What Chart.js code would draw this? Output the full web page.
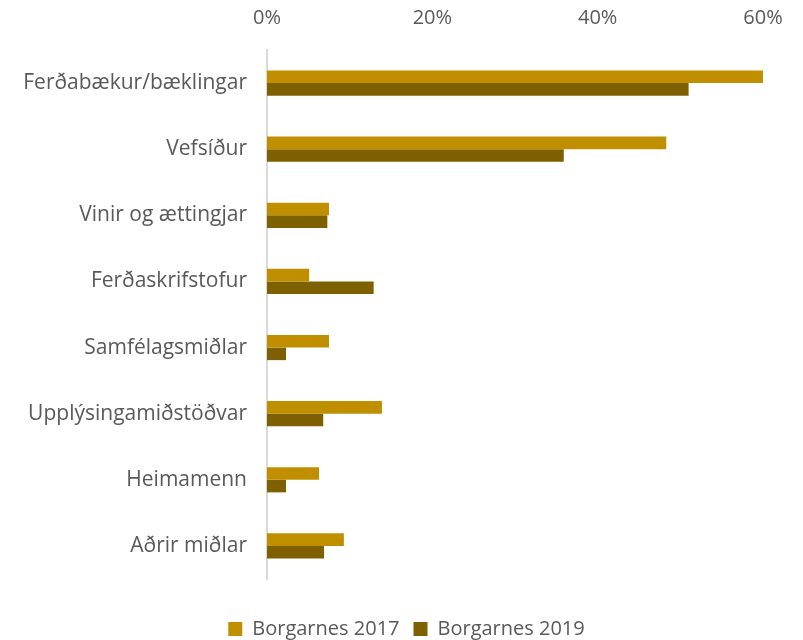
<!DOCTYPE html>
<html>
<head>
<meta charset="utf-8">
<script src="https://cdn.jsdelivr.net/npm/chart.js@4"></script>
<style>
  html, body { margin: 0; padding: 0; background: #fff; }
  #wrap { width: 803px; height: 640px; }
</style>
</head>
<body>
<div id="wrap"><canvas id="barChart"></canvas></div>
<script>
// gögn lesin af myndinni (hlutfall í %)
const categories = ['Ferðabækur/bæklingar', 'Vefsíður', 'Vinir og ættingjar', 'Ferðaskrifstofur',
  'Samfélagsmiðlar', 'Upplýsingamiðstöðvar', 'Heimamenn', 'Aðrir miðlar'];
const borgarnes2017 = [60.0, 48.3, 7.5, 5.1, 7.5, 13.9, 6.3, 9.3];
const borgarnes2019 = [51.0, 35.9, 7.3, 12.9, 2.3, 6.8, 2.3, 6.9];
const xTicks = [0, 20, 40, 60];

const ctx = document.getElementById('barChart').getContext('2d');
const fontFamily = '"Open Sans", sans-serif';

// tómir ásar, bara til að fá bil hægra megin og neðan við teiknisvæðið
const spacer = (pos, axis, size) => ({
    type: 'linear',
    axis: axis,
    position: pos,
    grid: { display: false, drawTicks: false },
    border: { display: false },
    ticks: { display: false },
    afterFit: scale => {
        if (axis === 'x') scale.height = size; else scale.width = size;
    }
});

// færir skýringuna aðeins neðar
const legendShift = {
    id: 'legendShift',
    afterLayout(chart) {
        chart.legend.top += 9;
        chart.legend.bottom += 9;
    }
};

new Chart(ctx, {
    type: 'bar',
    data: {
        labels: categories,
        datasets: [{
            label: 'Borgarnes 2017',
            data: borgarnes2017,
            backgroundColor: '#BF8F00',
            borderWidth: 0
        }, {
            label: 'Borgarnes 2019',
            data: borgarnes2019,
            backgroundColor: '#7F6000',
            borderWidth: 0
        }]
    },
    options: {
        indexAxis: 'y',
        responsive: true,
        maintainAspectRatio: false,
        animation: false,
        layout: { padding: { left: 10, right: 0, top: 4, bottom: 0 } },
        datasets: {
            bar: { categoryPercentage: 0.38, barPercentage: 1.0 }
        },
        plugins: {
            tooltip: { enabled: false },
            legend: {
                position: 'bottom',
                labels: {
                    color: '#595959',
                    font: { family: fontFamily, size: 20 },
                    boxWidth: 14,
                    boxHeight: 14,
                    padding: 14
                }
            }
        },
        scales: {
            x: {
                position: 'top',
                min: 0,
                max: 60,
                afterBuildTicks: axis => { axis.ticks = xTicks.map(v => ({ value: v })); },
                grid: { display: false, drawTicks: false },
                border: { display: false },
                ticks: {
                    color: '#595959',
                    font: { family: fontFamily, size: 20 },
                    padding: 20,
                    callback: v => v + '%'
                },
                afterFit: scale => { scale.height = 46; }
            },
            y: {
                grid: { display: false, drawTicks: false },
                border: { display: true, color: '#D9D9D9', width: 2 },
                ticks: {
                    color: '#595959',
                    font: { family: fontFamily, size: 21 },
                    padding: 20
                },
                afterFit: scale => { scale.width = 257; }
            },
            xBottom: spacer('bottom', 'x', 17),
            yRight: spacer('right', 'y', 40)
        }
    },
    plugins: [legendShift]
});
</script>
</body>
</html>
